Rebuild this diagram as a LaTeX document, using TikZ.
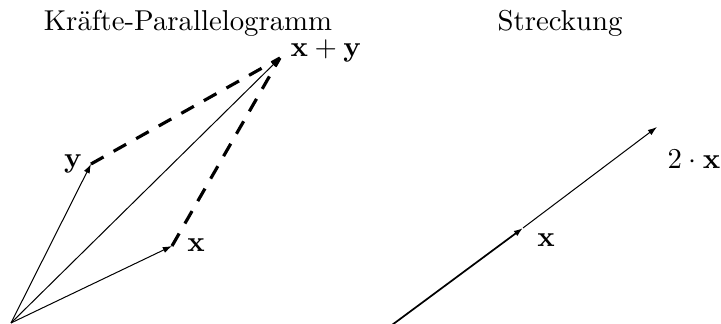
\documentclass[tikz,border=0pt]{standalone}
\usetikzlibrary{arrows.meta}
\begin{document}
\begin{tikzpicture}[x=0.3477pt,y=-0.3477pt,
  vec/.style={-{Latex[length=3.2pt,width=2.2pt]},line width=0.35pt},
  dsh/.style={line width=1.1pt,dash pattern=on 5pt off 4pt},
  lbl/.style={inner sep=0pt}]
\useasboundingbox (0,0) rectangle (721,324);
% left
\coordinate (O) at (11,323);
\coordinate (Y) at (91,164);
\coordinate (X) at (172,246);
\coordinate (S) at (280,58);
\node[lbl] (t1) at (188,23) {Kräfte-Parallelogramm};
\draw[vec] (O) -- (Y);
\draw[vec] (O) -- (X);
\draw[vec] (O) -- (S);
\draw[dsh] (Y) -- (S);
\draw[dsh] (X) -- (S);
\node[lbl] (ly) at (73,164) {$\mathbf{y}$};
\node[lbl] (lx) at (196,245) {$\mathbf{x}$};
\node[lbl] (ls) at (326,51) {$\mathbf{x}+\mathbf{y}$};
% right
\node[lbl] (t2) at (560,23) {Streckung};
\coordinate (O2) at (392,325);
\coordinate (M) at (523,228);
\coordinate (T) at (657,127);
\draw[vec,line width=0.6pt] (O2) -- (M);
\draw[vec] (M) -- (T);
\node[lbl] (lx2) at (546,240) {$\mathbf{x}$};
\node[lbl] (l2x) at (694,159) {$2\cdot\mathbf{x}$};
\end{tikzpicture}
\end{document}
